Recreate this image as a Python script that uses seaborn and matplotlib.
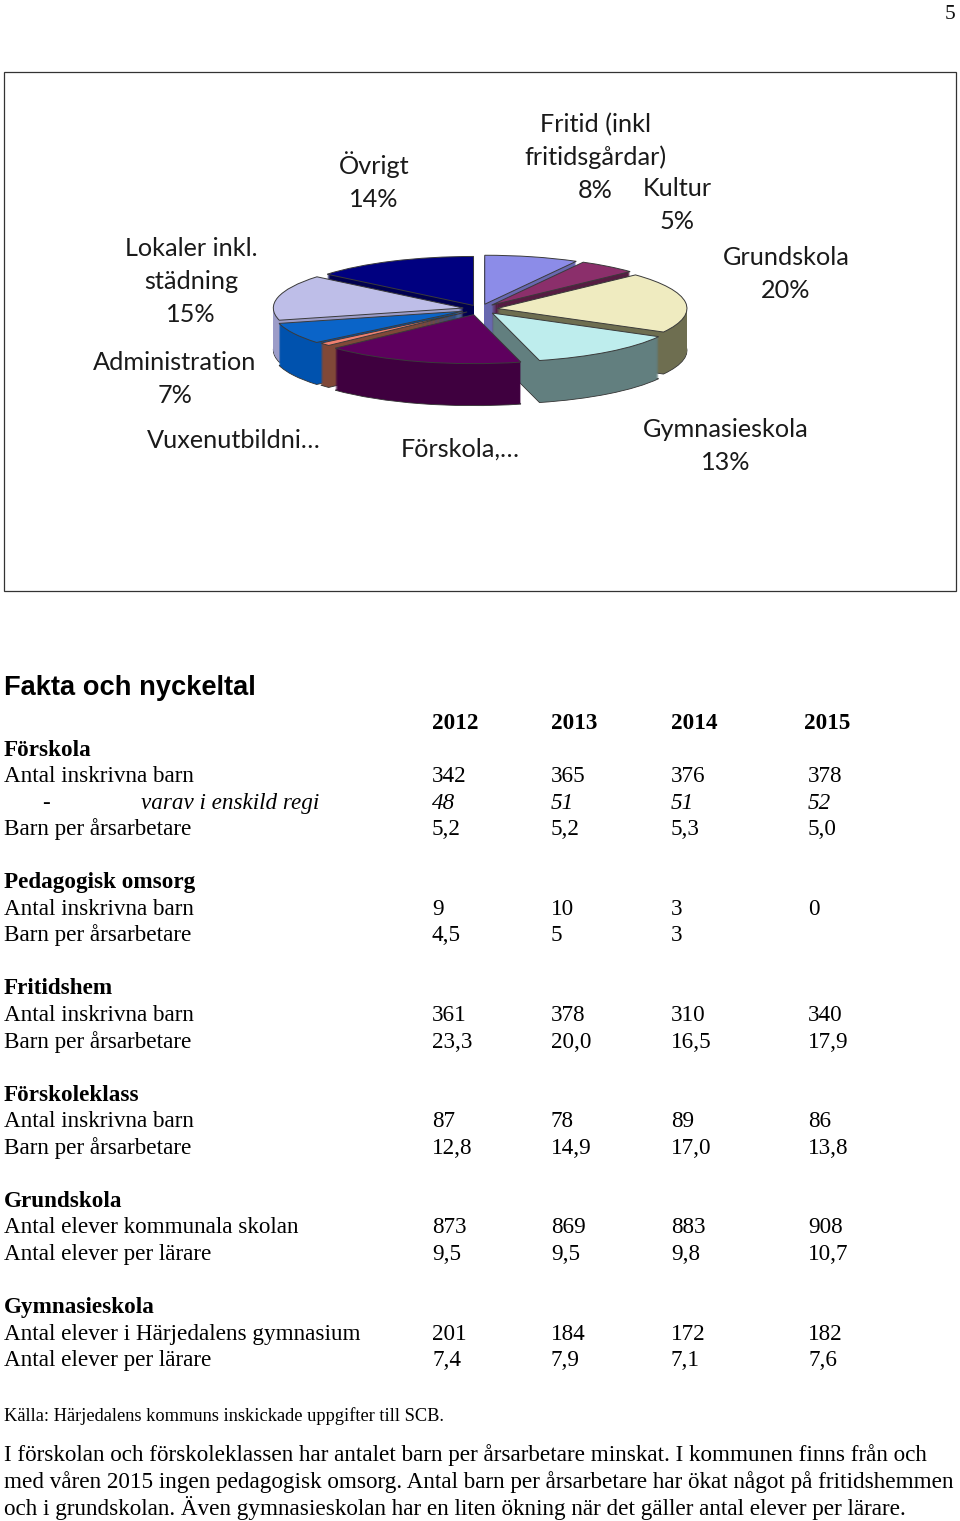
import matplotlib
matplotlib.use('Agg')
import matplotlib.pyplot as plt
import seaborn as sns
from matplotlib.patches import Rectangle

# data for the pie
pie_values = [8, 5, 20, 13, 17, 1, 7, 15, 14]
pie_labels = ['Fritid (inkl\nfritidsgårdar)\n8%', 'Kultur\n5%', 'Grundskola\n20%', 'Gymnasieskola\n13%',
              'Förskola,…', 'Vuxenutbildni…', 'Administration\n7%', 'Lokaler inkl.\nstädning\n15%', 'Övrigt\n14%']

# data for the table
years = ['2012', '2013', '2014', '2015']
row_labels = ['Förskola', 'Antal inskrivna barn', 'varav i enskild regi', 'Barn per årsarbetare', '',
              'Pedagogisk omsorg', 'Antal inskrivna barn', 'Barn per årsarbetare', '',
              'Fritidshem', 'Antal inskrivna barn', 'Barn per årsarbetare', '',
              'Förskoleklass', 'Antal inskrivna barn', 'Barn per årsarbetare', '',
              'Grundskola', 'Antal elever kommunala skolan', 'Antal elever per lärare', '',
              'Gymnasieskola', 'Antal elever i Härjedalens gymnasium', 'Antal elever per lärare']
values_2012 = ['', '342', '48', '5,2', '', '', '9', '4,5', '', '', '361', '23,3', '', '', '87', '12,8', '', '', '873', '9,5', '', '', '201', '7,4']
values_2013 = ['', '365', '51', '5,2', '', '', '10', '5', '', '', '378', '20,0', '', '', '78', '14,9', '', '', '869', '9,5', '', '', '184', '7,9']
values_2014 = ['', '376', '51', '5,3', '', '', '3', '3', '', '', '310', '16,5', '', '', '89', '17,0', '', '', '883', '9,8', '', '', '172', '7,1']
values_2015 = ['', '378', '52', '5,0', '', '', '0', '', '', '', '340', '17,9', '', '', '86', '13,8', '', '', '908', '10,7', '', '', '182', '7,6']
section_rows = ['Förskola', 'Pedagogisk omsorg', 'Fritidshem', 'Förskoleklass', 'Grundskola', 'Gymnasieskola']

source_text = 'Källa: Härjedalens kommuns inskickade uppgifter till SCB.'
body_text = ['I förskolan och förskoleklassen har antalet barn per årsarbetare minskat. I kommunen finns från och',
             'med våren 2015 ingen pedagogisk omsorg. Antal barn per årsarbetare har ökat något på fritidshemmen',
             'och i grundskolan. Även gymnasieskolan har en liten ökning när det gäller antal elever per lärare.']

# styles
top_colors = ['#8C8CE8', '#8B2F6B', '#EFEBC0', '#BEEDED', '#5E005E', '#F08070', '#0A64C8', '#BEBEE8', '#000080']
wall_colors = ['#6868B0', '#561C42', '#6E6E50', '#627F7F', '#3F003F', '#804838', '#0052AE', '#9C9CC8', '#000050']
explode = [0.1, 0.1, 0.09, 0.105, 0.12, 0.09, 0.1, 0.09, 0.08]
label_pos = [(595, 124), (677, 188), (786, 257), (726, 429), (460, 449), (234, 440), (175, 362), (191, 248), (374, 166)]

sns.set_theme(style='white')
W, H = 960, 1521
fig = plt.figure(figsize=(W / 100, H / 100), dpi=100, facecolor='white')

# page axes, in pixels
page = fig.add_axes([0, 0, 1, 1])
page.set_xlim(0, W)
page.set_ylim(H, 0)
page.axis('off')
page.add_patch(Rectangle((4, 72), 952, 519, fill=False, edgecolor='#333333', linewidth=0.9))
page.text(950, 19, '5', family='Liberation Serif', fontsize=15.5, ha='center', color='#111111')

# pie, flattened by the axes limits and stacked to get the depth
cx, cy, rx, ry, depth = 480, 309, 190, 49, 42
box_l, box_r, box_t, box_b = 230, 730, 220, 430
pie_ax = fig.add_axes([box_l / W, 1 - box_b / H, (box_r - box_l) / W, (box_b - box_t) / H])
pie_ax.patch.set_alpha(0)
for px in range(depth, 0, -1):
    edge = '#333333' if px == depth else 'none'
    pie_ax.pie(pie_values, colors=wall_colors, explode=explode, startangle=90, counterclock=False,
               center=(0, -px / ry), wedgeprops={'linewidth': 0.6 if px == depth else 0, 'edgecolor': edge})
pie_ax.pie(pie_values, colors=top_colors, explode=explode, startangle=90, counterclock=False,
           wedgeprops={'linewidth': 0.7, 'edgecolor': '#3A3A3A'})
pie_ax.set_aspect('auto')
pie_ax.set_xlim((box_l - cx) / rx, (box_r - cx) / rx)
pie_ax.set_ylim((cy - box_b) / ry, (cy - box_t) / ry)

# one text per line, the labels sit close together
for label, (x, y) in zip(pie_labels, label_pos):
    for n, line in enumerate(label.split('\n')):
        page.text(x, y + 8 + 33 * n, line, family='Lato', fontsize=18.2, ha='center', va='baseline',
                  color='#1A1A1A')

# table
serif = 'Liberation Serif'
size = 16.64
page.text(4, 695, 'Fakta och nyckeltal', family='Liberation Sans', fontweight='bold', fontsize=19.6, color='black')
first_base, pitch = 729, 26.55
year_x = [432, 551, 671, 804]
value_x = [432, 551, 671, 808]
for x, year in zip(year_x, years):
    page.text(x, first_base, year, family=serif, fontweight='bold', fontsize=size, color='black')
columns = [values_2012, values_2013, values_2014, values_2015]
for i, label in enumerate(row_labels):
    y = first_base + pitch * (i + 1)
    italic = label.startswith('varav')
    if italic:
        page.text(42, y, '-', family=serif, fontsize=size, color='black')
    page.text(141 if italic else 4, y, label, family=serif, fontsize=size, color='black',
              fontweight='bold' if label in section_rows else 'normal',
              fontstyle='italic' if italic else 'normal')
    for x, col in zip(value_x, columns):
        page.text(x, y, col[i], family=serif, fontsize=size, color='black',
                  fontstyle='italic' if italic else 'normal')

page.text(4, 1421, source_text, family=serif, fontsize=13.2, color='black')
for y, line in zip([1461, 1488, 1515], body_text):
    page.text(4, y, line, family=serif, fontsize=size, color='black')

fig.savefig('out.png', dpi=100)
